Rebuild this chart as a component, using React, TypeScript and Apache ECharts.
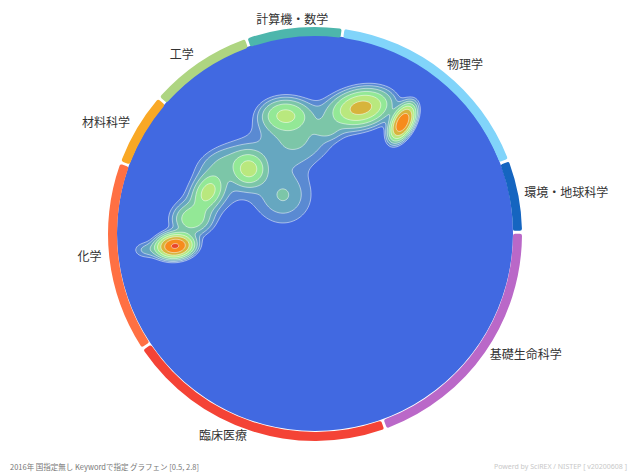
import React, { useEffect, useRef } from "react";
import * as echarts from "echarts";

// ---- ring segments (fields) ----
const fieldNames = ["計算機・数学", "物理学", "環境・地球科学", "基礎生命科学", "臨床医療", "化学", "材料科学", "工学"];
const fieldShares = [27.2, 61.3, 20.4, 70.6, 76.3, 53.8, 20.9, 29.5];
const fieldColors = ["#4db6ac", "#81d4fa", "#1565c0", "#ba68c8", "#f44336", "#ff7043", "#f9a825", "#aed581"];

// ---- density hotspots (map frame 0..396) ----
const hotX = [58, 28, 285.5, 244.5, 168, 178, 211, 213, 132, 91, 75, 100, 166, 166, 103];
const hotY = [210, 214, 86.5, 71.5, 79, 108, 94, 82, 133, 156, 183, 150, 159, 159, 125];
const hotPeak = [28.5, 1.6, 25.5, 11.9, 6.8, 2.2, 1.5, 1.3, 7, 6.6, 5.0, 1.7, 2.24, 0.6, 1.4];
const hotSpreadX = [9.8, 9, 10.6, 17, 14.6, 24, 8, 35, 10, 11.5, 11, 42, 22, 6, 16];
const hotSpreadY = [6.3, 6, 5.5, 10.2, 10, 15, 6, 16, 10, 8, 9, 19, 22, 6, 9];
const hotTilt = [-5, 0, -62, -12, 0, 0, 0, -10, 0, -60, 0, -50, 0, 0, -20];

const levelThresholds = [1, 1.6, 2.56, 4.1, 6.55, 10.5, 16.8, 26.8];
const levelColors = ["#5a8ad2", "#66a7c0", "#7cc6a8", "#93e896", "#b9e87e", "#d7b43c", "#f78b1c", "#e8452a"];

const captionLeft = "2016年 国指定無し Keywordで指定 グラフェン [0.5, 2.8]";
const captionRight = "Powerd by SciREX / NISTEP [ v20200608 ]";

const FRAME = 396;
const CX = 315;
const CY = 234;

function buildField(): Float32Array {
  const W = FRAME + 1;
  const f = new Float32Array(W * W);
  const n = hotX.length;
  const cs = hotTilt.map((a) => Math.cos((a * Math.PI) / 180));
  const sn = hotTilt.map((a) => Math.sin((a * Math.PI) / 180));
  for (let j = 0; j <= FRAME; j++) {
    for (let i = 0; i <= FRAME; i++) {
      let v = 0;
      for (let h = 0; h < n; h++) {
        const dx = i - hotX[h];
        const dy = j - hotY[h];
        const u = dx * cs[h] + dy * sn[h];
        const w = -dx * sn[h] + dy * cs[h];
        const e = (u * u) / (hotSpreadX[h] * hotSpreadX[h]) + (w * w) / (hotSpreadY[h] * hotSpreadY[h]);
        if (e < 40) v += hotPeak[h] * Math.exp(-0.5 * e);
      }
      f[j * W + i] = v;
    }
  }
  return f;
}

function fmt(v: number) {
  return Math.round(v * 100) / 100;
}

function buildPaths(f: Float32Array, t: number) {
  const W = FRAME + 1;
  let fill = "";
  let line = "";
  for (let j = 0; j < FRAME; j++) {
    let runStart = -1;
    for (let i = 0; i < FRAME; i++) {
      const v0 = f[j * W + i];
      const v1 = f[j * W + i + 1];
      const v2 = f[(j + 1) * W + i + 1];
      const v3 = f[(j + 1) * W + i];
      const a0 = v0 >= t, a1 = v1 >= t, a2 = v2 >= t, a3 = v3 >= t;
      if (a0 && a1 && a2 && a3) {
        if (runStart < 0) runStart = i;
        continue;
      }
      if (runStart >= 0) {
        fill += `M${runStart} ${j}H${i}V${j + 1}H${runStart}Z`;
        runStart = -1;
      }
      if (!(a0 || a1 || a2 || a3)) continue;
      const pts: number[][] = [];
      const corners: any[] = [
        [i, j, v0, a0],
        [i + 1, j, v1, a1],
        [i + 1, j + 1, v2, a2],
        [i, j + 1, v3, a3],
      ];
      const cross: number[][] = [];
      for (let k = 0; k < 4; k++) {
        const c = corners[k];
        const d = corners[(k + 1) % 4];
        if (c[3]) pts.push([c[0], c[1]]);
        if (c[3] !== d[3]) {
          const r = (t - c[2]) / (d[2] - c[2]);
          const p = [c[0] + (d[0] - c[0]) * r, c[1] + (d[1] - c[1]) * r];
          pts.push(p);
          cross.push(p);
        }
      }
      fill += "M" + pts.map((p) => `${fmt(p[0])} ${fmt(p[1])}`).join("L") + "Z";
      if (cross.length === 2) {
        line += `M${fmt(cross[0][0])} ${fmt(cross[0][1])}L${fmt(cross[1][0])} ${fmt(cross[1][1])}`;
      } else if (cross.length === 4) {
        line += `M${fmt(cross[0][0])} ${fmt(cross[0][1])}L${fmt(cross[1][0])} ${fmt(cross[1][1])}`;
        line += `M${fmt(cross[2][0])} ${fmt(cross[2][1])}L${fmt(cross[3][0])} ${fmt(cross[3][1])}`;
      }
    }
    if (runStart >= 0) {
      fill += `M${runStart} ${j}H${FRAME}V${j + 1}H${runStart}Z`;
    }
  }
  return { fill, line };
}

export default function App() {
  const ref = useRef<HTMLDivElement>(null);
  useEffect(() => {
    if (!ref.current) return;
    const chart = echarts.init(ref.current, null, { renderer: "svg" });
    const field = buildField();
    const paths = levelThresholds.map((t) => buildPaths(field, t));

    const startAngle = 109.4;
    const startCw = 360 - (startAngle - 90);
    let acc = 0;
    const labelEls: any[] = [];
    const LCX = 314;
    const LCY = 231;
    fieldNames.forEach((name, idx) => {
      const mid = ((startCw + acc + fieldShares[idx] / 2) % 360) * (Math.PI / 180);
      acc += fieldShares[idx];
      const s = Math.sin(mid);
      const c = Math.cos(mid);
      const R = 214;
      const align = s > 0.2 ? "left" : s < -0.2 ? "right" : "center";
      labelEls.push({
        type: "text",
        x: LCX + R * s,
        y: LCY - R * c,
        style: {
          text: name,
          fill: "#333",
          font: '12px "Noto Sans CJK JP", sans-serif',
          align,
          verticalAlign: "middle",
        },
        silent: true,
      });
    });

    const levelData = levelThresholds.map((t, k) => [0, 0, k]);

    chart.setOption({
      animation: false,
      backgroundColor: "#ffffff",
      grid: { left: CX - FRAME / 2, top: 36, width: FRAME, height: FRAME, show: false },
      xAxis: { type: "value", min: 0, max: FRAME, show: false },
      yAxis: { type: "value", min: 0, max: FRAME, inverse: true, show: false },
      graphic: [
        {
          type: "circle",
          shape: { cx: CX, cy: CY - 1, r: 198 },
          style: { fill: "#4169e1" },
          silent: true,
          z: -10,
        },
        ...labelEls,
        {
          type: "text",
          x: 10,
          y: 466,
          style: { text: captionLeft, fill: "#777", font: '7.5px "Noto Sans CJK JP", sans-serif', verticalAlign: "middle" },
          silent: true,
        },
        {
          type: "text",
          x: 627,
          y: 466,
          style: { text: captionRight, fill: "#c8c8c8", font: '7px "Noto Sans", sans-serif', align: "right", verticalAlign: "middle" },
          silent: true,
        },
      ],
      series: [
        {
          type: "pie",
          center: [CX, CY],
          radius: [198, 207],
          startAngle,
          clockwise: true,
          padAngle: 0.8,
          silent: true,
          label: { show: false },
          labelLine: { show: false },
          itemStyle: { borderRadius: 2 },
          data: fieldNames.map((n, i) => ({ name: n, value: fieldShares[i], itemStyle: { color: fieldColors[i] } })),
          z: 3,
        },
        {
          type: "custom",
          coordinateSystem: "cartesian2d",
          silent: true,
          clip: false,
          z: 2,
          data: levelData,
          renderItem: (params: any, api: any) => {
            const k = api.value(2);
            const o = api.coord([0, 0]);
            const p1 = api.coord([1, 1]);
            const sx = p1[0] - o[0];
            const sy = p1[1] - o[1];
            return {
              type: "group",
              children: [
                {
                  type: "path",
                  x: o[0],
                  y: o[1],
                  scaleX: sx,
                  scaleY: sy,
                  shape: { pathData: paths[k].fill || "M0 0" },
                  style: { fill: levelColors[k], stroke: null },
                },
                {
                  type: "path",
                  x: o[0],
                  y: o[1],
                  scaleX: sx,
                  scaleY: sy,
                  shape: { pathData: paths[k].line || "M0 0" },
                  style: { fill: null, stroke: "rgba(255,255,255,0.55)", lineWidth: 0.9 },
                },
              ],
            };
          },
        },
      ],
    });
    return () => chart.dispose();
  }, []);
  return <div ref={ref} style={{ position: "absolute", left: 0, top: 0, width: 629, height: 475 }} />;
}
